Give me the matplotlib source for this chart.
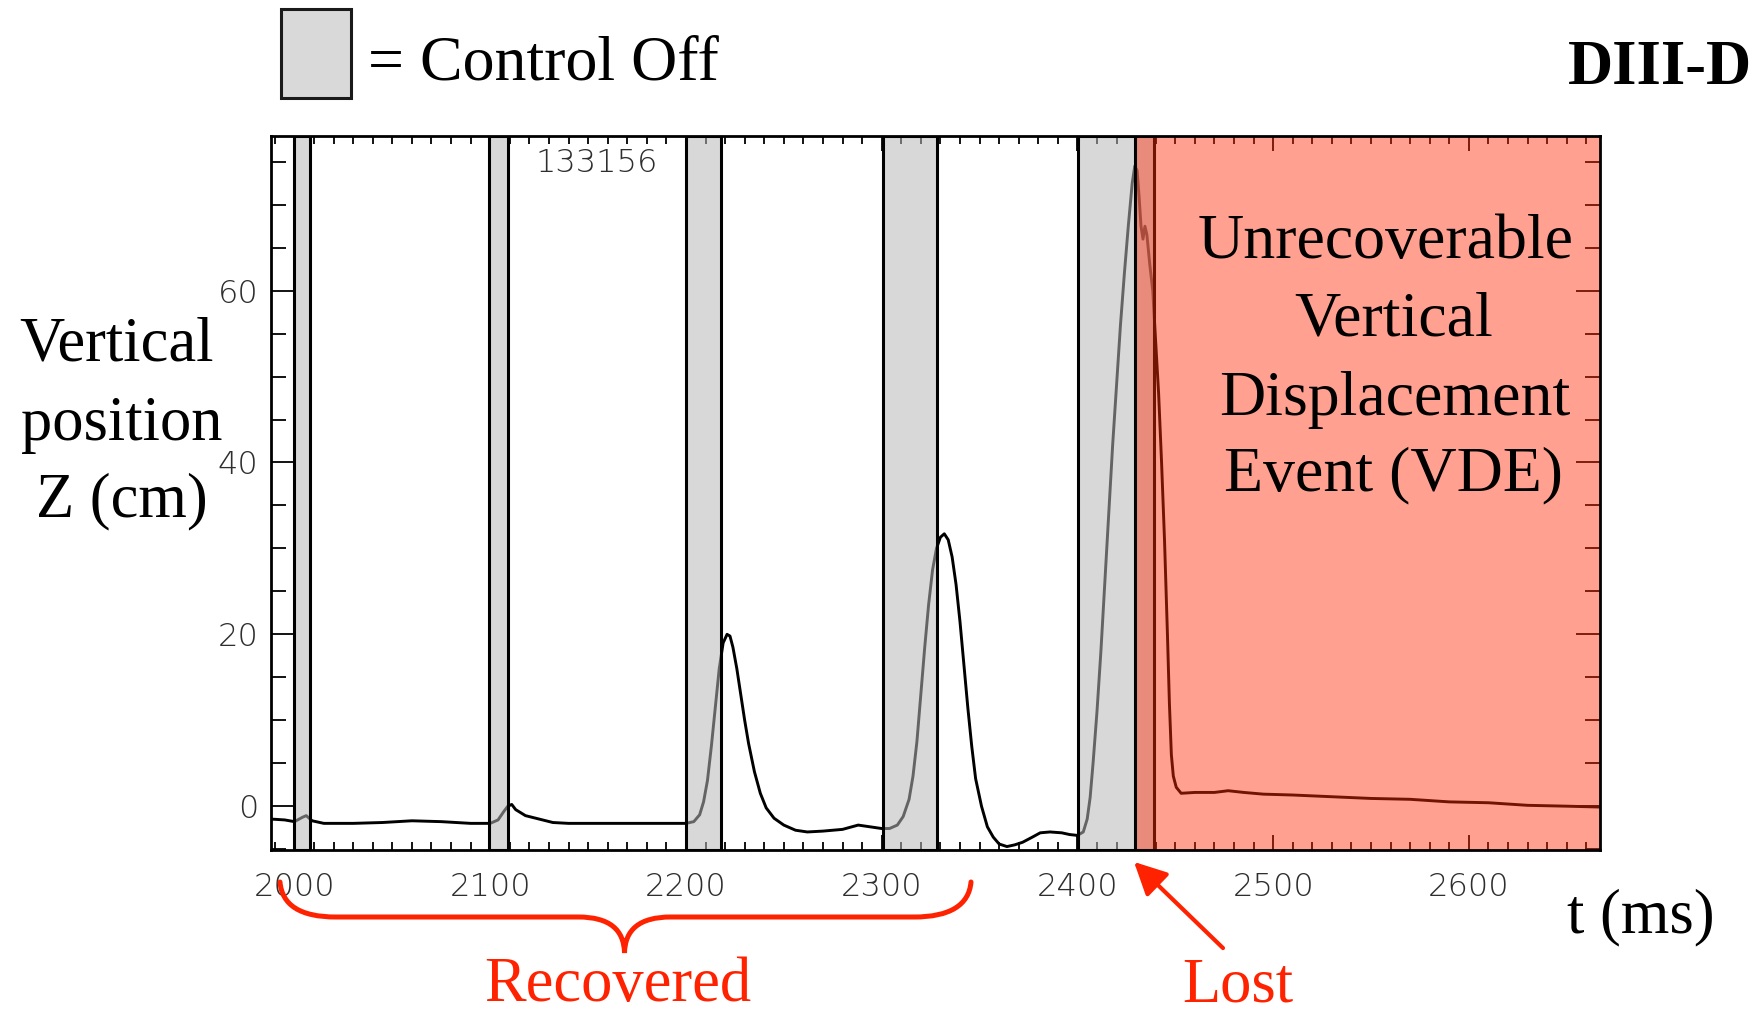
import matplotlib
matplotlib.use("Agg")
import matplotlib.pyplot as plt
from matplotlib.patches import Rectangle, FancyArrowPatch, PathPatch
from matplotlib.path import Path
from matplotlib.ticker import MultipleLocator

W, H = 1758, 1014

# vertical position Z (cm) vs time (ms), shot 133156
t_ms = [1988, 1995, 2000, 2004, 2006, 2009, 2015, 2030, 2045, 2060, 2075, 2090,
        2100, 2104, 2107, 2109, 2111, 2113, 2118, 2125, 2132, 2140, 2160, 2180,
        2200, 2204, 2207, 2209, 2211, 2213, 2215, 2217, 2219, 2221, 2222.5, 2224,
        2226, 2228, 2230, 2232, 2235, 2238, 2241, 2245, 2250, 2256, 2262, 2270,
        2280, 2288, 2294, 2300, 2304, 2308, 2311, 2314, 2316, 2318, 2320, 2322,
        2324, 2326, 2328, 2330, 2332, 2334, 2336, 2338, 2340, 2342, 2344, 2346,
        2348, 2351, 2354, 2357, 2360, 2364, 2368, 2372, 2377, 2381, 2386, 2392,
        2396, 2400, 2403, 2405, 2406.5, 2408, 2410, 2412, 2414, 2416, 2418, 2420,
        2422, 2424, 2426, 2428, 2429.3, 2430.5, 2431.5, 2432.5, 2433.5, 2434.5,
        2435.5, 2437, 2438.5, 2440, 2441.5, 2443, 2444.5, 2446, 2447, 2448, 2449,
        2450.5, 2453, 2460, 2470, 2477, 2485, 2495, 2510, 2530, 2550, 2570, 2590,
        2610, 2630, 2650, 2667]
z_cm = [-1.5, -1.6, -1.8, -1.3, -1.1, -1.7, -2.0, -2.0, -1.9, -1.7, -1.8, -2.0,
        -2.0, -1.6, -0.6, 0.0, 0.2, -0.4, -1.1, -1.5, -1.9, -2.0, -2.0, -2.0,
        -2.0, -1.8, -1.0, 0.5, 3.0, 7.0, 11.5, 16.0, 19.0, 20.0, 19.8, 18.5,
        16.0, 13.0, 10.0, 7.3, 4.0, 1.5, -0.2, -1.4, -2.2, -2.8, -3.0, -2.9,
        -2.7, -2.2, -2.4, -2.6, -2.6, -2.2, -1.2, 0.8, 3.5, 7.5, 13.0, 18.5,
        23.5, 27.5, 30.0, 31.3, 31.7, 31.0, 29.0, 25.8, 21.5, 16.5, 11.5, 7.0,
        3.2, 0.0, -2.4, -3.6, -4.4, -4.7, -4.5, -4.2, -3.6, -3.1, -3.0, -3.1,
        -3.3, -3.4, -3.0, -1.5, 1.0, 5.0, 11.0, 18.0, 26.0, 34.0, 42.0, 49.0,
        56.0, 62.0, 67.5, 72.5, 74.5, 74.0, 71.0, 67.5, 66.0, 67.5,
        66.5, 63.0, 60.0, 54.0, 48.0, 40.0, 31.0, 20.0, 12.0, 6.0, 3.5,
        2.2, 1.5, 1.6, 1.6, 1.8, 1.6, 1.4, 1.3, 1.1, 0.9, 0.8, 0.5,
        0.4, 0.1, 0.0, -0.1]

# control-off windows (ms)
off_start = [2000, 2099.5, 2200, 2300.5, 2400.5]
off_end = [2008, 2109, 2218, 2328.5, 2439]
vde_start = 2429.5
shot = "133156"

xticks = [2000, 2100, 2200, 2300, 2400, 2500, 2600]
yticks = [0, 20, 40, 60]

RED = "#FF2200"
SERIF = "Liberation Serif"


def fx(px):
    return px / W


def fy(py):
    return 1 - py / H


fig = plt.figure(figsize=(W / 100, H / 100), dpi=100)
ax = fig.add_axes([fx(271), fy(850), (1600 - 271) / W, (850 - 136) / H])

ax.plot(t_ms, z_cm, color="black", lw=2.1, zorder=2)

for a, b in zip(off_start, off_end):
    ax.axvspan(a, b, facecolor=(0.72, 0.72, 0.72, 0.55), edgecolor="black",
               lw=2.2, zorder=2.2)

ax.set_xlim(1988, 2667)
ax.set_ylim(-5.1, 78)

# lost control: VDE region
ax.axvspan(vde_start, ax.get_xlim()[1], facecolor=(1.0, 0.18, 0.035, 0.45),
           edgecolor="none", zorder=3)
ax.axvline(vde_start, color="black", lw=2.2, zorder=3.1)

for s in ax.spines.values():
    s.set_linewidth(2.0)
    s.set_zorder(4)

ax.set_xticks(xticks)
ax.set_yticks(yticks)
ax.xaxis.set_minor_locator(MultipleLocator(10))
ax.yaxis.set_minor_locator(MultipleLocator(5))
ax.tick_params(which="both", direction="in", top=True, right=True,
               width=1.3, color="black")
ax.tick_params(axis="x", which="major", length=11, pad=16)
ax.tick_params(axis="x", which="minor", length=6)
ax.tick_params(axis="y", which="major", length=17, pad=9)
ax.tick_params(axis="y", which="minor", length=11)
for lab in ax.get_xticklabels() + ax.get_yticklabels():
    lab.set_fontfamily("DejaVu Sans")
    lab.set_fontweight("light")
    lab.set_fontsize(23)
    lab.set_color("#2e2e2e")

ax.text(2154.6, 74.9, shot, ha="center", va="center", fontsize=23,
        family="DejaVu Sans", weight="light", color="#2e2e2e", zorder=5)

# legend swatch
fig.add_artist(Rectangle((fx(281), fy(98)), 70 / W, 89 / H,
                         transform=fig.transFigure, facecolor="#D9D9D9",
                         edgecolor="#1a1a1a", lw=2.2))
fig.text(fx(368), fy(79), "= Control Off", fontsize=46, family=SERIF,
         ha="left", va="baseline")
fig.text(fx(1752), fy(84), "DIII-D", fontsize=45, family=SERIF,
         weight="bold", ha="right", va="baseline")

# y label, one line at a time
for txt, x, y in [("Vertical", 116, 361), ("position", 122, 440),
                  ("Z (cm)", 122, 516)]:
    fig.text(fx(x), fy(y), txt, fontsize=45, family=SERIF,
             ha="center", va="baseline")

for txt, x, y in [("Unrecoverable", 1386, 258), ("Vertical", 1394, 336),
                  ("Displacement", 1395, 415), ("Event (VDE)", 1393, 490)]:
    fig.text(fx(x), fy(y), txt, fontsize=46, family=SERIF,
             ha="center", va="baseline", zorder=6)

fig.text(fx(1567), fy(932), "t (ms)", fontsize=45, family=SERIF,
         ha="left", va="baseline")

# brace under the recovered events
pts = [(280, 882), (282, 905), (300, 917), (336, 917),
       (578, 917),
       (610, 917), (624, 930), (624.5, 953),
       (625, 930), (639, 917), (671, 917),
       (914, 917),
       (950, 917), (969, 905), (971, 882)]
codes = [Path.MOVETO, Path.CURVE4, Path.CURVE4, Path.CURVE4,
         Path.LINETO,
         Path.CURVE4, Path.CURVE4, Path.CURVE4,
         Path.CURVE4, Path.CURVE4, Path.CURVE4,
         Path.LINETO,
         Path.CURVE4, Path.CURVE4, Path.CURVE4]
brace = Path([(fx(x), fy(y)) for x, y in pts], codes)
fig.add_artist(PathPatch(brace, transform=fig.transFigure, facecolor="none",
                         edgecolor=RED, lw=3.6, capstyle="round"))
fig.text(fx(618), fy(1001), "Recovered", fontsize=45, family=SERIF,
         color=RED, ha="center", va="baseline")

fig.add_artist(FancyArrowPatch((fx(1225), fy(950)), (fx(1132), fy(860)),
                               transform=fig.transFigure, color=RED, lw=3,
                               arrowstyle="-|>,head_length=0.9,head_width=0.45",
                               mutation_scale=22))
fig.text(fx(1238), fy(1001), "Lost", fontsize=45, family=SERIF,
         color=RED, ha="center", va="baseline")

fig.savefig("out.png", dpi=100)
